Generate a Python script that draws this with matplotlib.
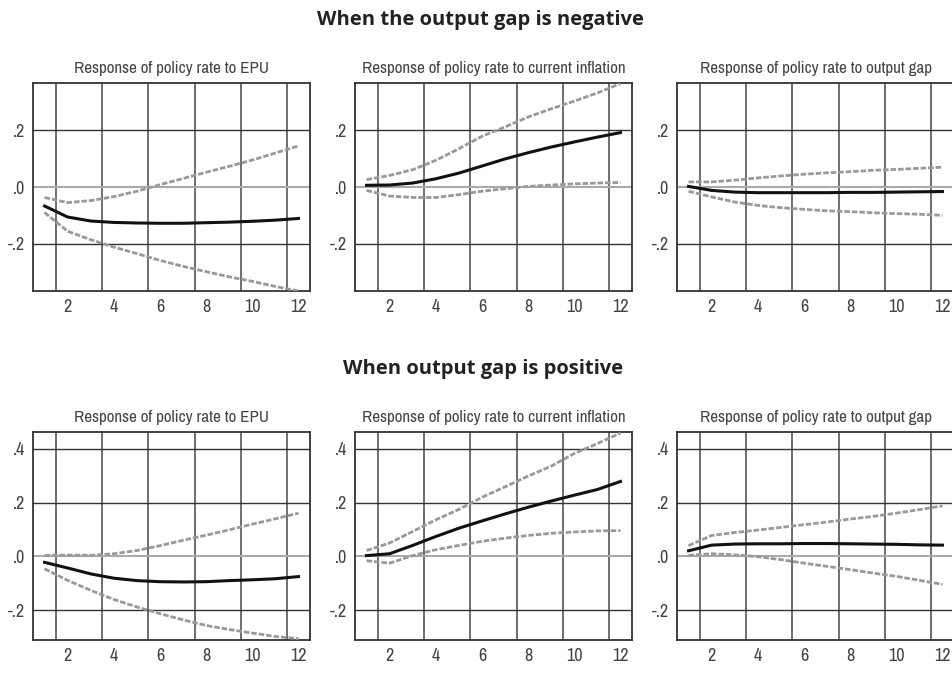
import matplotlib.pyplot as plt
from matplotlib import font_manager
from matplotlib.font_manager import FontProperties

# horizon (periods)
x = list(range(1, 13))
xticks = [2, 4, 6, 8, 10, 12]

titles = ["Response of policy rate to EPU",
          "Response of policy rate to current inflation",
          "Response of policy rate to output gap"]

# --- output gap negative ---
neg_epu = [-0.067, -0.106, -0.12, -0.125, -0.127, -0.128, -0.128, -0.126, -0.124, -0.121, -0.117, -0.111]
neg_epu_hi = [-0.037, -0.055, -0.048, -0.034, -0.015, 0.008, 0.03, 0.052, 0.073, 0.095, 0.12, 0.145]
neg_epu_lo = [-0.09, -0.156, -0.186, -0.212, -0.235, -0.259, -0.28, -0.299, -0.317, -0.333, -0.351, -0.367]

neg_inf = [0.006, 0.007, 0.014, 0.029, 0.049, 0.074, 0.099, 0.121, 0.141, 0.159, 0.176, 0.192]
neg_inf_hi = [0.026, 0.041, 0.061, 0.094, 0.135, 0.179, 0.212, 0.247, 0.276, 0.303, 0.332, 0.365]
neg_inf_lo = [-0.012, -0.032, -0.037, -0.037, -0.027, -0.015, -0.006, 0.002, 0.007, 0.011, 0.014, 0.016]

neg_gap = [0.002, -0.012, -0.018, -0.02, -0.02, -0.02, -0.02, -0.019, -0.019, -0.018, -0.017, -0.016]
neg_gap_hi = [0.018, 0.018, 0.024, 0.032, 0.039, 0.045, 0.05, 0.054, 0.059, 0.062, 0.066, 0.07]
neg_gap_lo = [-0.015, -0.035, -0.053, -0.065, -0.073, -0.079, -0.084, -0.087, -0.091, -0.094, -0.096, -0.1]

# --- output gap positive ---
pos_epu = [-0.022, -0.043, -0.065, -0.081, -0.09, -0.094, -0.095, -0.094, -0.09, -0.087, -0.083, -0.075]
pos_epu_hi = [0.004, 0.005, 0.004, 0.01, 0.022, 0.04, 0.06, 0.079, 0.099, 0.12, 0.14, 0.161]
pos_epu_lo = [-0.046, -0.089, -0.126, -0.16, -0.188, -0.213, -0.236, -0.257, -0.272, -0.285, -0.298, -0.306]

pos_inf = [0.003, 0.01, 0.041, 0.074, 0.105, 0.132, 0.158, 0.183, 0.206, 0.228, 0.249, 0.279]
pos_inf_hi = [0.022, 0.05, 0.093, 0.136, 0.175, 0.22, 0.259, 0.299, 0.336, 0.383, 0.42, 0.459]
pos_inf_lo = [-0.016, -0.025, 0.003, 0.025, 0.041, 0.056, 0.068, 0.078, 0.086, 0.091, 0.095, 0.096]

pos_gap = [0.021, 0.042, 0.046, 0.047, 0.047, 0.048, 0.048, 0.047, 0.046, 0.045, 0.043, 0.042]
pos_gap_hi = [0.04, 0.078, 0.089, 0.098, 0.108, 0.118, 0.128, 0.139, 0.149, 0.161, 0.174, 0.188]
pos_gap_lo = [0.004, 0.01, 0.006, -0.001, -0.012, -0.025, -0.037, -0.049, -0.062, -0.074, -0.089, -0.104]

rows = [
    [(neg_epu, neg_epu_hi, neg_epu_lo), (neg_inf, neg_inf_hi, neg_inf_lo), (neg_gap, neg_gap_hi, neg_gap_lo)],
    [(pos_epu, pos_epu_hi, pos_epu_lo), (pos_inf, pos_inf_hi, pos_inf_lo), (pos_gap, pos_gap_hi, pos_gap_lo)],
]
row_titles = ["When the output gap is negative", "When output gap is positive"]
row_yticks = [[-0.2, 0.0, 0.2], [-0.2, 0.0, 0.2, 0.4]]
row_ylim = [(-0.367, 0.367), (-0.311, 0.463)]

# look for a narrow font, the original uses a condensed face
narrow = None
for f in font_manager.fontManager.ttflist:
    if 'Narrow' in f.name or 'Condensed' in f.name:
        narrow = FontProperties(family=f.name, stretch=f.stretch, weight='normal')
        break
if narrow is None:
    for f in font_manager.fontManager.ttflist:
        if str(f.stretch) in ('condensed', 'semi-condensed', 'extra-condensed'):
            narrow = FontProperties(family=f.name, stretch=f.stretch, weight='normal')
            break
if narrow is None:
    narrow = FontProperties(family='Roboto')

def ylab(v):
    s = "%.1f" % v
    return s.replace("0.", ".")

fig = plt.figure(figsize=(9.52, 7), dpi=100)
renderer = fig.canvas.get_renderer()

# fit the longest panel title to the width it has in the original (~262 px)
probe = fig.text(0, 0, titles[1], fontproperties=narrow, fontsize=12)
tw = probe.get_window_extent(renderer).width
probe.remove()
title_size = min(12.5, 12 * 262.0 / tw)
tick_size = min(13, title_size * 1.2)

W, H = 952.0, 700.0
lefts = [33, 355, 677]
tops = [83, 432]
aw, ah = 277, 208

for r in range(2):
    for c in range(3):
        mid, hi, lo = rows[r][c]
        ax = fig.add_axes([lefts[c] / W, 1 - (tops[r] + ah) / H, aw / W, ah / H])
        ax.set_xlim(0.5, 12.5)
        ax.set_ylim(*row_ylim[r])
        # grid: vertical lines between ticks, horizontal at ticks
        for gx in [1.5, 3.5, 5.5, 7.5, 9.5, 11.5]:
            ax.axvline(gx, color='#555555', lw=1.2, zorder=1)
        for gy in row_yticks[r]:
            if gy == 0:
                ax.axhline(gy, color='#aaaaaa', lw=1.5, zorder=1)
            else:
                ax.axhline(gy, color='#333333', lw=1.0, zorder=1)
        ax.plot(x, hi, color='#999999', lw=2, ls=(0, (2, 0.7)), zorder=3)
        ax.plot(x, lo, color='#999999', lw=2, ls=(0, (2, 0.7)), zorder=3)
        ax.plot(x, mid, color='#111111', lw=2.2, zorder=4)
        ax.set_xticks(xticks)
        ax.set_xticklabels([str(t) for t in xticks])
        ax.set_yticks(row_yticks[r])
        ax.set_yticklabels([ylab(v) for v in row_yticks[r]])
        ax.tick_params(length=0, colors='#444444', pad=6)
        for lab in ax.get_xticklabels() + ax.get_yticklabels():
            lab.set_fontproperties(narrow)
            lab.set_fontsize(tick_size)
        for sp in ax.spines.values():
            sp.set_color('#333333')
            sp.set_linewidth(1.3)
        ax.set_title(titles[c], fontproperties=narrow, fontsize=title_size,
                     color='#444444', pad=7)

fig.text(0.505, 1 - 20 / H, row_titles[0], ha='center', va='center',
         fontsize=14.5, fontweight='bold', family='Open Sans', color='#222222')
fig.text(0.507, 1 - 369 / H, row_titles[1], ha='center', va='center',
         fontsize=14.5, fontweight='bold', family='Open Sans', color='#222222')

fig.savefig("out.png", dpi=100)
